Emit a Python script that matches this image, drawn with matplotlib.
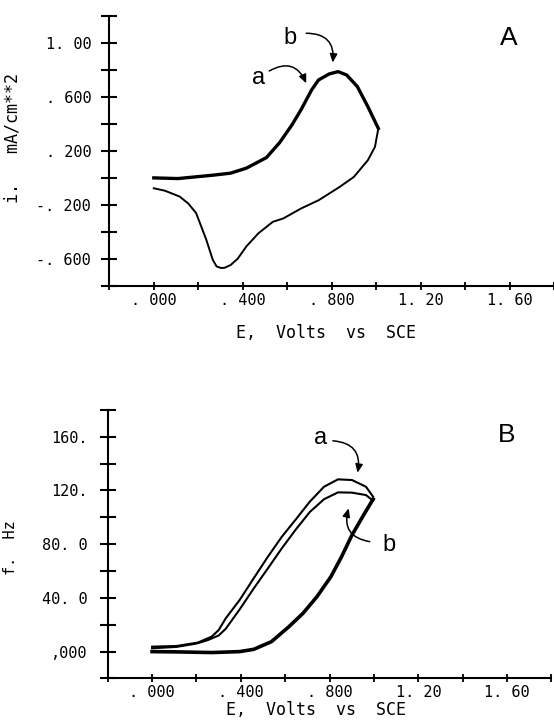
import matplotlib
matplotlib.use("Agg")
import matplotlib.pyplot as plt
import numpy as np

# --- panel A: cyclic voltammogram, i (mA/cm**2) vs E (V vs SCE)
e_fwd = [0.0, 0.108, 0.266, 0.345, 0.416, 0.506, 0.565, 0.62, 0.661, 0.709,
         0.74, 0.788, 0.828, 0.867, 0.915, 0.962, 1.009]
i_fwd = [0.0, -0.005, 0.02, 0.035, 0.072, 0.15, 0.26, 0.39, 0.502, 0.65,
         0.724, 0.769, 0.786, 0.761, 0.675, 0.527, 0.366]
e_rev = [1.009, 0.994, 0.962, 0.899, 0.835, 0.74, 0.661, 0.582, 0.535, 0.47,
         0.416, 0.377, 0.345, 0.318, 0.303, 0.282, 0.265, 0.236, 0.19, 0.155,
         0.116, 0.05, 0.0]
i_rev = [0.366, 0.23, 0.131, 0.007, -0.067, -0.166, -0.227, -0.3, -0.325, -0.41,
         -0.507, -0.598, -0.645, -0.665, -0.667, -0.655, -0.606, -0.458, -0.26, -0.19,
         -0.138, -0.095, -0.077]

# --- panel B: frequency change f (Hz) vs E
e_up = [0.0, 0.11, 0.269, 0.395, 0.458, 0.538, 0.617, 0.68, 0.743, 0.806,
        0.854, 0.901, 0.949, 0.996]
f_up = [0.0, -0.2, -0.7, 0.0, 1.7, 7.4, 18.6, 28.5, 40.9, 55.8,
        70.7, 86.8, 100.5, 113.5]
e_a = [0.996, 0.964, 0.901, 0.838, 0.775, 0.711, 0.648, 0.585, 0.522, 0.458,
       0.395, 0.332, 0.3, 0.269, 0.206, 0.11, 0.0]
f_a = [115.4, 122.8, 127.8, 128.3, 122.8, 111.7, 98.5, 85.6, 70.7, 54.6,
       38.5, 24.8, 16.0, 11.2, 6.7, 4.2, 3.7]
e_b = [0.996, 0.964, 0.901, 0.838, 0.775, 0.711, 0.648, 0.585, 0.522, 0.458,
       0.395, 0.332, 0.3, 0.25, 0.2, 0.11, 0.0]
f_b = [112.4, 116.6, 118.4, 118.6, 113.5, 104.0, 91.0, 77.0, 62.0, 47.0,
       31.5, 17.0, 12.0, 8.5, 6.0, 3.5, 2.5]

x_ticks = [-0.2, 0.0, 0.2, 0.4, 0.6, 0.8, 1.0, 1.2, 1.4, 1.6, 1.8]
x_labels = ["", ". 000", "", ". 400", "", ". 800", "", "1. 20", "", "1. 60", ""]
ya_ticks = [-0.8, -0.6, -0.4, -0.2, 0.0, 0.2, 0.4, 0.6, 0.8, 1.0, 1.2]
ya_labels = ["", "-. 600", "", "-. 200", "", ". 200", "", ". 600", "", "1. 00", ""]
yb_ticks = [-20, 0, 20, 40, 60, 80, 100, 120, 140, 160, 180]
yb_labels = ["", ",000", "", "40. 0", "", "80. 0", "", "120.", "", "160.", ""]

mono = "DejaVu Sans Mono"
sans = "Liberation Sans"

fig = plt.figure(figsize=(5.54, 7.23), dpi=100)
ax1 = fig.add_axes([0.1973, 0.6044, 0.8033, 0.3739])
ax2 = fig.add_axes([0.1944, 0.0616, 0.8010, 0.3714])


def style_axes(ax, yticks, ylabels, ypad):
    for s in ("top", "right"):
        ax.spines[s].set_visible(False)
    for s in ("left", "bottom"):
        ax.spines[s].set_linewidth(1.5)
    ax.set_xlim(-0.2, 1.8)
    ax.set_ylim(yticks[0], yticks[-1])
    ax.set_xticks(x_ticks)
    ax.set_xticklabels(x_labels, family=mono, fontsize=11)
    ax.set_yticks(yticks)
    ax.set_yticklabels(ylabels, family=mono, fontsize=11)
    ax.tick_params(axis="y", direction="inout", length=11, width=1.5, pad=ypad)
    ax.tick_params(axis="x", direction="inout", length=6, width=1.3, pad=2)
    for t in ax.xaxis.get_major_ticks() + ax.yaxis.get_major_ticks():
        t.tick1line.set_clip_on(False)


style_axes(ax1, ya_ticks, ya_labels, 7.5)
style_axes(ax2, yb_ticks, yb_labels, 9)

# panel A curves
ax1.plot(e_fwd, i_fwd, color="black", lw=2.4, solid_joinstyle="round")
ax1.plot(e_rev, i_rev, color="black", lw=1.4, solid_joinstyle="round")
ax1.set_xlabel("E,  Volts  vs  SCE", family=mono, fontsize=12)
ax1.xaxis.set_label_coords(0.486, -0.14)
ax1.set_ylabel("i.   mA/cm**2", family=mono, fontsize=12)
ax1.yaxis.set_label_coords(-0.198, 0.546)
ax1.text(1.595, 1.033, "A", family=sans, fontsize=19, ha="center", va="center")

arrow = dict(arrowstyle="-|>,head_length=0.5,head_width=0.22", color="black",
             lw=1.1, connectionstyle="arc3,rad=-0.55", shrinkA=0, shrinkB=0)
ax1.text(0.471, 0.737, "a", family=sans, fontsize=17, ha="center", va="center")
ax1.annotate("", xy=(0.685, 0.70), xytext=(0.519, 0.791), arrowprops=arrow)
ax1.text(0.614, 1.033, "b", family=sans, fontsize=17, ha="center", va="center")
ax1.annotate("", xy=(0.804, 0.853), xytext=(0.685, 1.07), arrowprops=arrow)

# panel B curves
ax2.plot(e_up, f_up, color="black", lw=2.6, solid_joinstyle="round")
ax2.plot(e_a, f_a, color="black", lw=1.5, solid_joinstyle="round")
ax2.plot(e_b, f_b, color="black", lw=1.5, solid_joinstyle="round")
ax2.set_xlabel("E,  Volts  vs  SCE", family=mono, fontsize=12)
ax2.xaxis.set_label_coords(0.47, -0.085)
ax2.set_ylabel("f.  Hz", family=mono, fontsize=11)
ax2.yaxis.set_label_coords(-0.202, 0.486)
ax2.text(1.598, 161.3, "B", family=sans, fontsize=19, ha="center", va="center")

ax2.text(0.759, 158.8, "a", family=sans, fontsize=17, ha="center", va="center")
ax2.annotate("", xy=(0.926, 133.2), xytext=(0.815, 157.0), arrowprops=arrow)
ax2.text(1.068, 79.4, "b", family=sans, fontsize=17, ha="center", va="center")
ax2.annotate("", xy=(0.886, 106.7), xytext=(0.981, 81.9), arrowprops=arrow)

fig.savefig("out.png", dpi=100)
